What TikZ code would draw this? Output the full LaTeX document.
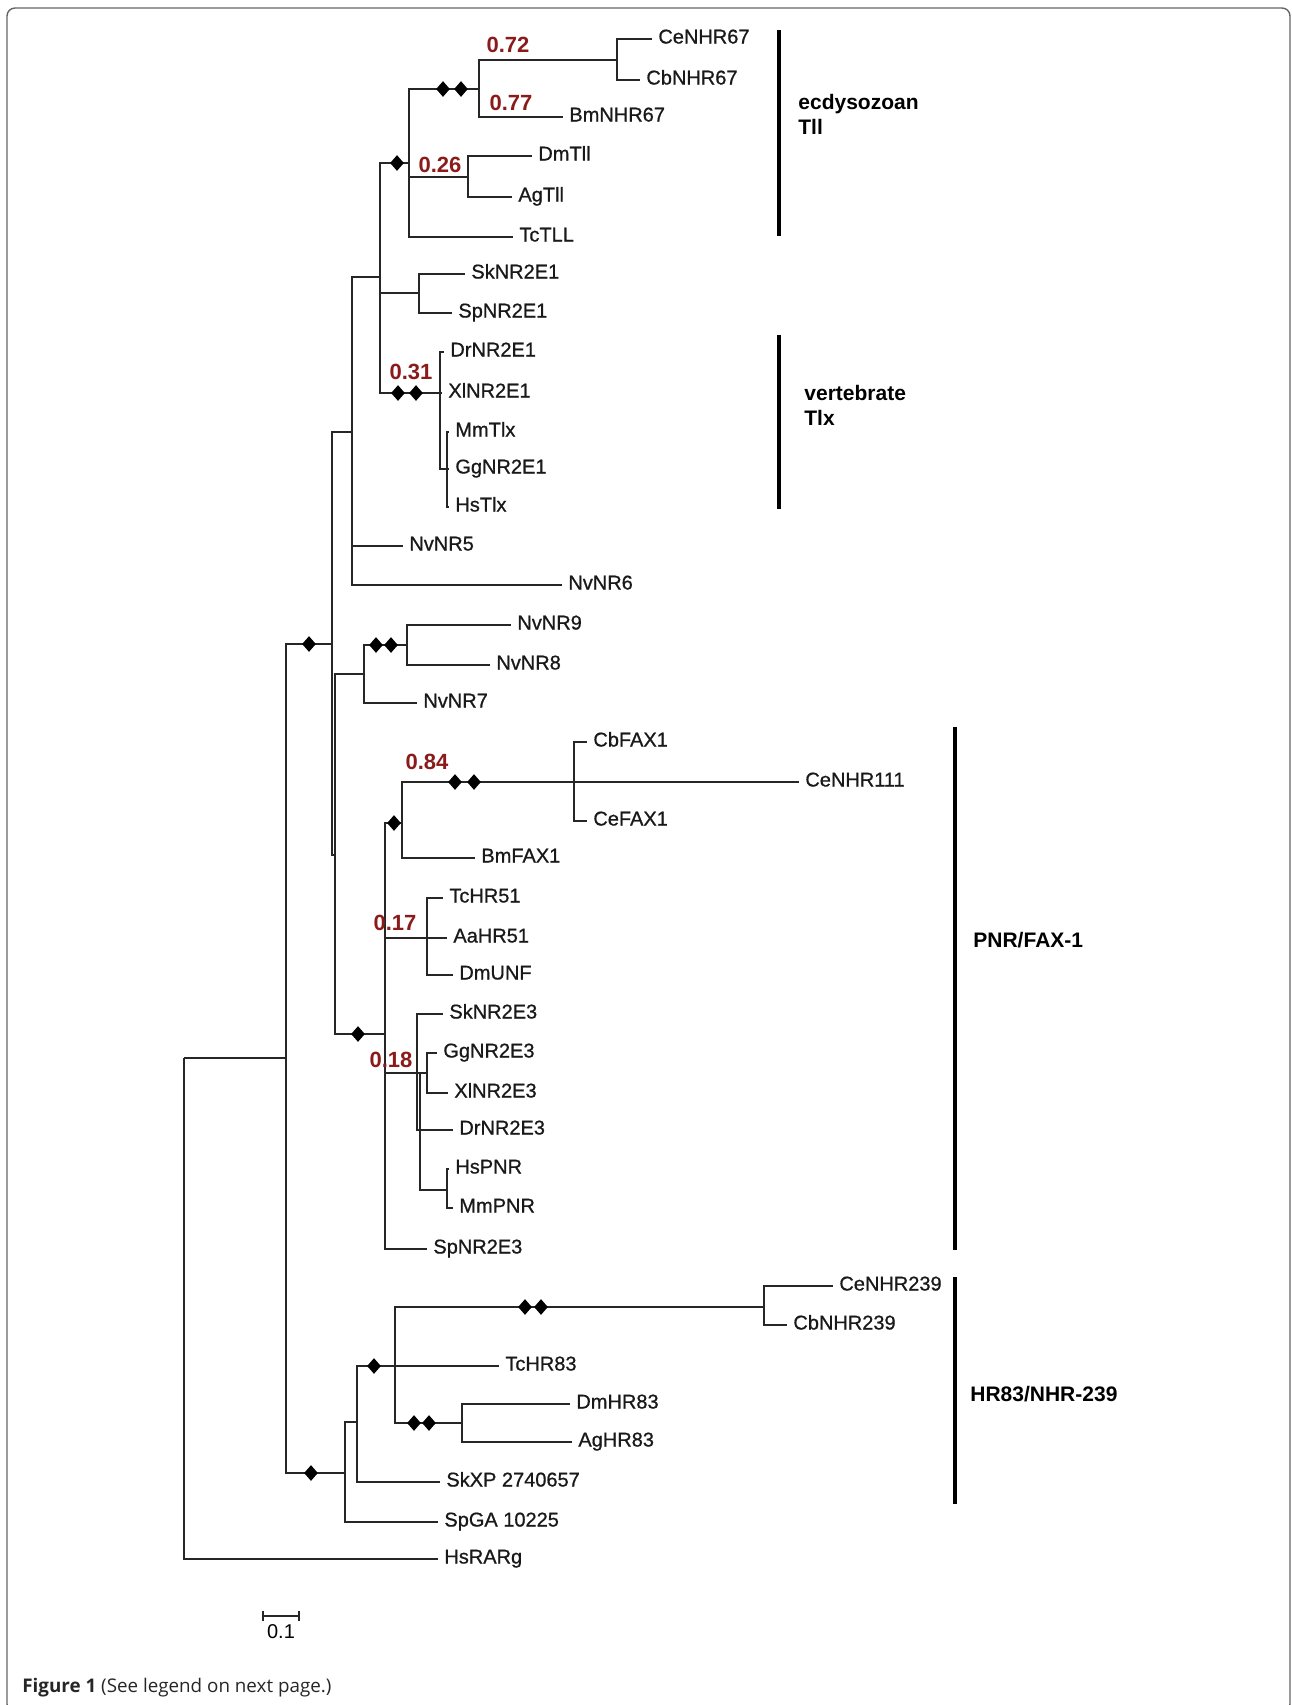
\documentclass[tikz,border=0pt]{standalone}
\usepackage{fontspec}
\setmainfont{Liberation Sans}
\newfontfamily\capfont{Open Sans}
\newfontfamily\taxfont[FakeBold=0.8]{Liberation Sans}
\usetikzlibrary{positioning,shapes.geometric}
\definecolor{bootred}{RGB}{139,26,26}
\definecolor{linegray}{gray}{0.15}

\begin{document}
\begin{tikzpicture}[x=0.5pt,y=-0.5pt,
        branch/.style={color=linegray,line width=0.8pt},
        elbow/.style={to path={|- (\tikztotarget)}},
        taxon/.style={anchor=west,inner xsep=3pt,inner ysep=0pt,text=black!90,
          text height=6pt,text depth=1.5pt,font=\taxfont\fontsize{10}{12}\selectfont},
        boot/.style={shape=diamond,fill=black,inner sep=0pt,
          minimum width=7pt,minimum height=8pt},
        bootval/.style={text=bootred,inner sep=0pt,
          font=\bfseries\fontsize{11}{13}\selectfont},
        groupbar/.style={line width=2pt},
        grouplabel/.style={anchor=west,align=left,inner sep=0pt,
          font=\bfseries\fontsize{10.5}{12.5}\selectfont}]
  \useasboundingbox (0,0) rectangle (1292,1705);
  \draw[gray!80!black,line width=0.7pt,rounded corners=4pt]
    (7,8) rectangle (1290,1712);

  % leaves
  \node[taxon] (CeNHR67)  at (652,39)   {CeNHR67};
  \node[taxon] (CbNHR67)  at (640,80)   {CbNHR67};
  \node[taxon] (BmNHR67)  at (563,117)  {BmNHR67};
  \node[taxon] (DmTll)    at (532,156)  {DmTll};
  \node[taxon] (AgTll)    at (512,197)  {AgTll};
  \node[taxon] (TcTLL)    at (513,237)  {TcTLL};
  \node[taxon] (SkNR2E1)  at (465,274)  {SkNR2E1};
  \node[taxon] (SpNR2E1)  at (452,313)  {SpNR2E1};
  \node[taxon] (DrNR2E1)  at (444,352)  {DrNR2E1};
  \node[taxon] (XlNR2E1)  at (442,393)  {XlNR2E1};
  \node[taxon] (MmTlx)    at (449,432)  {MmTlx};
  \node[taxon] (GgNR2E1)  at (449,469)  {GgNR2E1};
  \node[taxon] (HsTlx)    at (449,507)  {HsTlx};
  \node[taxon] (NvNR5)    at (403,546)  {NvNR5};
  \node[taxon] (NvNR6)    at (562,585)  {NvNR6};
  \node[taxon] (NvNR9)    at (511,625)  {NvNR9};
  \node[taxon] (NvNR8)    at (490,665)  {NvNR8};
  \node[taxon] (NvNR7)    at (417,703)  {NvNR7};
  \node[taxon] (CbFAX1)   at (587,742)  {CbFAX1};
  \node[taxon] (CeNHR111) at (799,782)  {CeNHR111};
  \node[taxon] (CeFAX1)   at (587,821)  {CeFAX1};
  \node[taxon] (BmFAX1)   at (475,858)  {BmFAX1};
  \node[taxon] (TcHR51)   at (443,898)  {TcHR51};
  \node[taxon] (AaHR51)   at (447,938)  {AaHR51};
  \node[taxon] (DmUNF)    at (453,975)  {DmUNF};
  \node[taxon] (SkNR2E3)  at (443,1014) {SkNR2E3};
  \node[taxon] (GgNR2E3)  at (437,1053) {GgNR2E3};
  \node[taxon] (XlNR2E3)  at (448,1093) {XlNR2E3};
  \node[taxon] (DrNR2E3)  at (453,1130) {DrNR2E3};
  \node[taxon] (HsPNR)    at (449,1169) {HsPNR};
  \node[taxon] (MmPNR)    at (453,1208) {MmPNR};
  \node[taxon] (SpNR2E3)  at (427,1249) {SpNR2E3};
  \node[taxon] (CeNHR239) at (833,1286) {CeNHR239};
  \node[taxon] (CbNHR239) at (787,1325) {CbNHR239};
  \node[taxon] (TcHR83)   at (499,1366) {TcHR83};
  \node[taxon] (DmHR83)   at (570,1404) {DmHR83};
  \node[taxon] (AgHR83)   at (572,1442) {AgHR83};
  \node[taxon] (SkXP)     at (440,1482) {SkXP 2740657};
  \node[taxon] (SpGA)     at (438,1522) {SpGA 10225};
  \node[taxon] (HsRARg)   at (438,1559) {HsRARg};

  % inner nodes
  \coordinate (n67cc)   at (617,60);
  \coordinate (n67)     at (479,89);
  \coordinate (ntllda)  at (468,177);
  \coordinate (ntll)    at (409,163);
  \coordinate (nsk1)    at (419,293);
  \coordinate (ntlx)    at (440,393);
  \coordinate (ntlx2)   at (447,469);
  \coordinate (nbil)    at (380,277);
  \coordinate (nnv56)   at (352,432);
  \coordinate (nnv98)   at (407,645);
  \coordinate (nnv7)    at (364,674);
  \coordinate (nfax)    at (574,782);
  \coordinate (nfaxb)   at (402,823);
  \coordinate (nhr51)   at (427,938);
  \coordinate (nggxl)   at (427,1073);
  \coordinate (nhsmm)   at (447,1190);
  \coordinate (nvert3)  at (420,1073);
  \coordinate (n2e3)    at (417,1073);
  \coordinate (npnr)    at (385,1034);
  \coordinate (nlow)    at (335,855);
  \coordinate (nupper)  at (332,644);
  \coordinate (n239)    at (764,1307);
  \coordinate (nhr83da) at (462,1423);
  \coordinate (nhr83)   at (395,1366);
  \coordinate (nsk83)   at (357,1422);
  \coordinate (nsp83)   at (345,1473);
  \coordinate (nin)     at (286,1058);
  \coordinate (root)    at (184,1058);

  % branches
  \path[branch] (n67cc) edge[elbow] (CeNHR67) edge[elbow] (CbNHR67)
            (n67) edge[elbow] (n67cc) edge[elbow] (BmNHR67)
            (ntllda) edge[elbow] (DmTll) edge[elbow] (AgTll)
            (ntll) edge[elbow] (n67) edge[elbow] (ntllda) edge[elbow] (TcTLL)
            (nsk1) edge[elbow] (SkNR2E1) edge[elbow] (SpNR2E1)
            (ntlx2) edge[elbow] (MmTlx) edge[elbow] (GgNR2E1) edge[elbow] (HsTlx)
            (ntlx) edge[elbow] (DrNR2E1) edge[elbow] (XlNR2E1) edge[elbow] (ntlx2)
            (nbil) edge[elbow] (ntll) edge[elbow] (nsk1) edge[elbow] (ntlx)
            (nnv56) edge[elbow] (nbil) edge[elbow] (NvNR5) edge[elbow] (NvNR6)
            (nnv98) edge[elbow] (NvNR9) edge[elbow] (NvNR8)
            (nnv7) edge[elbow] (nnv98) edge[elbow] (NvNR7)
            (nfax) edge[elbow] (CbFAX1) edge[elbow] (CeNHR111) edge[elbow] (CeFAX1)
            (nfaxb) edge[elbow] (nfax) edge[elbow] (BmFAX1)
            (nhr51) edge[elbow] (TcHR51) edge[elbow] (AaHR51) edge[elbow] (DmUNF)
            (nggxl) edge[elbow] (GgNR2E3) edge[elbow] (XlNR2E3)
            (nhsmm) edge[elbow] (HsPNR) edge[elbow] (MmPNR)
            (nvert3) edge[elbow] (nggxl) edge[elbow] (nhsmm)
            (n2e3) edge[elbow] (SkNR2E3) edge[elbow] (nvert3) edge[elbow] (DrNR2E3)
            (npnr) edge[elbow] (nfaxb) edge[elbow] (nhr51) edge[elbow] (n2e3)
                   edge[elbow] (SpNR2E3)
            (nlow) edge[elbow] (nnv7) edge[elbow] (npnr)
            (nupper) edge[elbow] (nnv56) edge[elbow] (nlow)
            (n239) edge[elbow] (CeNHR239) edge[elbow] (CbNHR239)
            (nhr83da) edge[elbow] (DmHR83) edge[elbow] (AgHR83)
            (nhr83) edge[elbow] (n239) edge[elbow] (TcHR83) edge[elbow] (nhr83da)
            (nsk83) edge[elbow] (nhr83) edge[elbow] (SkXP)
            (nsp83) edge[elbow] (nsk83) edge[elbow] (SpGA)
            (nin) edge[elbow] (nupper) edge[elbow] (nsp83)
            (root) edge[elbow] (nin) edge[elbow] (HsRARg);

  % diamonds
  \node[boot] (b1)  at (443,89)   {};
  \node[boot] (b2)  at (461,89)   {};
  \node[boot] (b3)  at (397,163)  {};
  \node[boot] (b4)  at (398,393)  {};
  \node[boot] (b5)  at (416,393)  {};
  \node[boot] (b6)  at (309,644)  {};
  \node[boot] (b7)  at (376,645)  {};
  \node[boot] (b8)  at (391,645)  {};
  \node[boot] (b9)  at (455,782)  {};
  \node[boot] (b10) at (474,782)  {};
  \node[boot] (b11) at (394,823)  {};
  \node[boot] (b12) at (358,1034) {};
  \node[boot] (b13) at (525,1307) {};
  \node[boot] (b14) at (541,1307) {};
  \node[boot] (b15) at (374,1366) {};
  \node[boot] (b16) at (414,1423) {};
  \node[boot] (b17) at (429,1423) {};
  \node[boot] (b18) at (311,1473) {};

  % support values
  \node[bootval] (v72) at (508,45)   {0.72};
  \node[bootval] (v77) at (511,103)  {0.77};
  \node[bootval] (v26) at (440,165)  {0.26};
  \node[bootval] (v31) at (411,372)  {0.31};
  \node[bootval] (v84) at (427,762)  {0.84};
  \node[bootval] (v17) at (395,923)  {0.17};
  \node[bootval] (v18) at (391,1060) {0.18};

  % groups
  \coordinate (ecdyT) at (779,30);   \coordinate (ecdyB) at (779,236);
  \coordinate (vertT) at (779,335);  \coordinate (vertB) at (779,509);
  \coordinate (pnrT)  at (955,727);  \coordinate (pnrB)  at (955,1250);
  \coordinate (hrT)   at (955,1277); \coordinate (hrB)   at (955,1504);
  \draw[groupbar] (ecdyT) -- (ecdyB);
  \draw[groupbar] (vertT) -- (vertB);
  \draw[groupbar] (pnrT) -- (pnrB);
  \draw[groupbar] (hrT) -- (hrB);
  \node[grouplabel] (ecdy) at (798,114)  {ecdysozoan\\Tll};
  \node[grouplabel] (vert) at (804,405)  {vertebrate\\Tlx};
  \node[grouplabel] (pnr)  at (973,940)  {PNR/FAX-1};
  \node[grouplabel] (hr)   at (970,1394) {HR83/NHR-239};

  % scale bar
  \coordinate (sbL) at (263,1616);
  \coordinate (sbR) at (299,1616);
  \coordinate (sbM) at (281,1616);
  \draw[branch] (sbL) -- (sbR);
  \draw[branch] (sbL) ++(0,-5) -- ++(0,10);
  \draw[branch] (sbR) ++(0,-5) -- ++(0,10);
  \node[inner sep=0pt,font=\fontsize{10}{12}\selectfont,below=4pt of sbM] (sblab) {0.1};

  \node[anchor=base west,inner sep=0pt,text=black!85,font=\capfont\fontsize{9.4}{11}\selectfont]
    (cap) at (22,1692) {\textbf{Figure 1} (See legend on next page.)};
\end{tikzpicture}
\end{document}
